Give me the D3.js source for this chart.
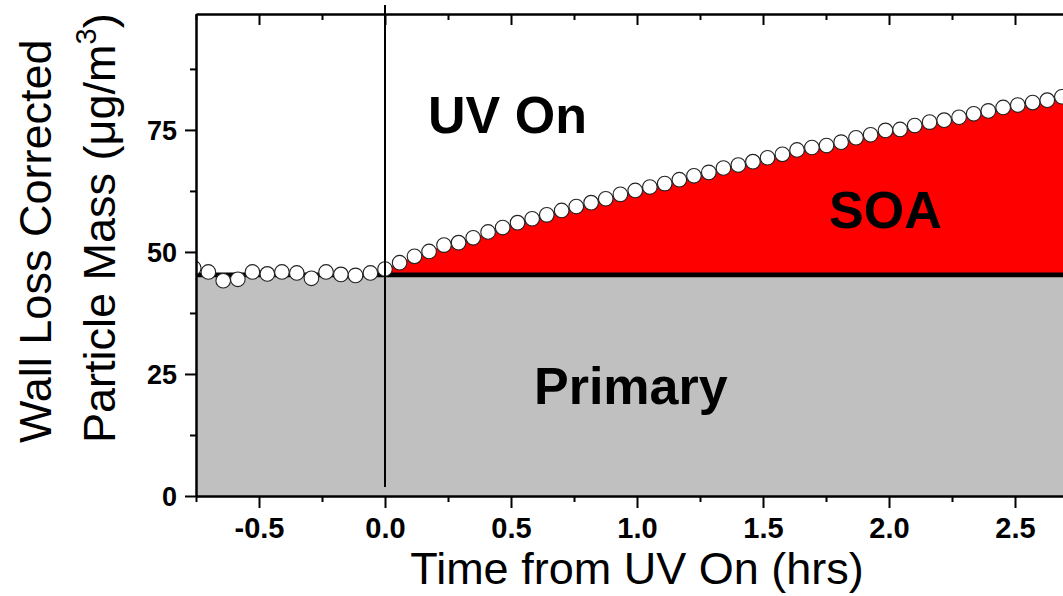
<!DOCTYPE html>
<html>
<head>
<meta charset="utf-8">
<script src="https://cdn.jsdelivr.net/npm/d3@7"></script>
<style>
  body { margin: 0; background: #fff; }
  svg { display: block; font-family: "Liberation Sans", Arial, sans-serif; }
  .tick text { font-family: "Liberation Sans", Arial, sans-serif; font-weight: bold; fill: #000; }
  .xlab .tick text { font-size: 29px; }
  .ylab .tick text { font-size: 27px; }
</style>
</head>
<body>
<svg id="chart" width="1063" height="596"></svg>
<script>
// Time relative to UV lamps switching on (hours)
const timeHrs = [
  -0.759, -0.701, -0.642, -0.584, -0.526, -0.467, -0.409, -0.350, -0.292, -0.234,
  -0.175, -0.117, -0.058, 0.000, 0.058, 0.117, 0.175, 0.234, 0.292, 0.350,
  0.409, 0.467, 0.526, 0.584, 0.642, 0.701, 0.759, 0.818, 0.876, 0.934,
  0.993, 1.051, 1.110, 1.168, 1.226, 1.285, 1.343, 1.402, 1.460, 1.518,
  1.577, 1.635, 1.694, 1.752, 1.810, 1.869, 1.927, 1.986, 2.044, 2.102,
  2.161, 2.219, 2.278, 2.336, 2.394, 2.453, 2.511, 2.570, 2.628, 2.686, 2.745
];
// Wall-loss-corrected particle mass (ug/m3)
const massUg = [
  46.7, 45.9, 44.1, 44.4, 45.9, 45.5, 45.9, 45.7, 44.6, 45.9,
  45.4, 45.2, 45.7, 46.5, 47.8, 49.1, 50.1, 51.4, 51.9, 52.9,
  54.1, 55.0, 56.0, 56.8, 57.6, 58.5, 59.3, 60.1, 60.9, 61.8,
  62.6, 63.3, 64.0, 64.8, 65.6, 66.3, 67.2, 67.8, 68.5, 69.3,
  70.0, 70.9, 71.4, 71.8, 72.5, 73.4, 74.0, 74.9, 75.1, 75.9,
  76.6, 77.0, 77.6, 78.3, 78.9, 79.6, 80.1, 80.6, 81.1, 81.8, 82.3
];
// Primary aerosol mass present before UV on
const primaryLevel = 45.3;
const uvOnTime = 0;

const xDomain = [-0.75, 2.75];
const yDomain = [0, 98.75];
const xMajorTicks = [-0.5, 0, 0.5, 1, 1.5, 2, 2.5];
const xTickLabels = ["-0.5", "0.0", "0.5", "1.0", "1.5", "2.0", "2.5"];
const xMinorTicks = [-0.75, -0.25, 0.25, 0.75, 1.25, 1.75, 2.25, 2.75];
const yMajorTicks = [0, 25, 50, 75];
const yTickLabels = ["0", "25", "50", "75"];
const yMinorTicks = [12.5, 37.5, 62.5, 87.5];

const svg = d3.select("#chart");
const plotLeft = 196, plotRight = 1078, plotTop = 14, plotBottom = 496;

const x = d3.scaleLinear().domain(xDomain).range([plotLeft, plotRight]);
const y = d3.scaleLinear().domain(yDomain).range([plotBottom, plotTop]);

const points = timeHrs.map((t, i) => ({ t, m: massUg[i] }));

svg.append("defs").append("clipPath").attr("id", "plotClip")
  .append("rect").attr("x", plotLeft).attr("y", 0)
  .attr("width", plotRight - plotLeft).attr("height", plotBottom);

const plot = svg.append("g").attr("clip-path", "url(#plotClip)");

// Primary aerosol (gray band)
plot.append("rect")
  .attr("x", x(xDomain[0])).attr("width", x(xDomain[1]) - x(xDomain[0]))
  .attr("y", y(primaryLevel)).attr("height", y(0) - y(primaryLevel))
  .attr("fill", "#c0c0c0");

// SOA formed after UV on (red area above primary level)
const soaArea = d3.area()
  .x(d => x(d.t))
  .y0(() => y(primaryLevel))
  .y1(d => y(d.m));
plot.append("path")
  .datum(points.filter(d => d.t >= uvOnTime))
  .attr("d", soaArea)
  .attr("fill", "#ff0000");

// Primary level line
plot.append("line")
  .attr("x1", x(xDomain[0])).attr("x2", x(xDomain[1]))
  .attr("y1", y(primaryLevel)).attr("y2", y(primaryLevel))
  .attr("stroke", "#000").attr("stroke-width", 4.6);

// Measured particle mass
plot.selectAll("circle.obs")
  .data(points)
  .join("circle")
  .attr("class", "obs")
  .attr("cx", d => x(d.t))
  .attr("cy", d => y(d.m))
  .attr("r", 7.3)
  .attr("fill", "#fff")
  .attr("stroke", "#222")
  .attr("stroke-width", 1.1);

// UV on marker
svg.append("line")
  .attr("x1", x(uvOnTime)).attr("x2", x(uvOnTime))
  .attr("y1", 5).attr("y2", 487)
  .attr("stroke", "#000").attr("stroke-width", 2);

// Axes
function styleAxis(g) {
  g.selectAll("path.domain").attr("stroke", "#000").attr("stroke-width", 2);
  g.selectAll(".tick line").attr("stroke", "#000").attr("stroke-width", 2);
}

// bottom
const gxMinor = svg.append("g").attr("transform", `translate(0,${plotBottom})`)
  .call(d3.axisBottom(x).tickValues(xMinorTicks).tickSize(6).tickSizeOuter(0).tickFormat(""));
styleAxis(gxMinor);
const gx = svg.append("g").attr("class", "xlab").attr("transform", `translate(0,${plotBottom})`)
  .call(d3.axisBottom(x).tickValues(xMajorTicks).tickSize(12).tickSizeOuter(0)
    .tickFormat((d, i) => xTickLabels[i]));
styleAxis(gx);
gx.selectAll(".tick text").attr("y", 42).attr("dy", 0);

// top
const gtMinor = svg.append("g").attr("transform", `translate(0,${plotTop})`)
  .call(d3.axisTop(x).tickValues(xMinorTicks).tickSize(-6).tickSizeOuter(0).tickFormat(""));
styleAxis(gtMinor);
const gt = svg.append("g").attr("transform", `translate(0,${plotTop})`)
  .call(d3.axisTop(x).tickValues(xMajorTicks).tickSize(-11).tickSizeOuter(0).tickFormat(""));
styleAxis(gt);

// left
const gyMinor = svg.append("g").attr("transform", `translate(${plotLeft},0)`)
  .call(d3.axisLeft(y).tickValues(yMinorTicks).tickSize(6).tickSizeOuter(0).tickFormat(""));
styleAxis(gyMinor);
const gy = svg.append("g").attr("class", "ylab").attr("transform", `translate(${plotLeft},0)`)
  .call(d3.axisLeft(y).tickValues(yMajorTicks).tickSize(11).tickSizeOuter(0)
    .tickFormat((d, i) => yTickLabels[i]));
styleAxis(gy);
gy.selectAll(".tick text").attr("x", -19).attr("dy", "0.35em");

// Axis titles
svg.append("text")
  .attr("x", (plotLeft + plotRight) / 2).attr("y", 584)
  .attr("text-anchor", "middle")
  .attr("font-size", 45)
  .text("Time from UV On (hrs)");

svg.append("text")
  .attr("transform", "translate(51,443) rotate(-90)")
  .attr("font-size", 45)
  .text("Wall Loss Corrected");

const yt2 = svg.append("text")
  .attr("transform", "translate(115,443) rotate(-90)")
  .attr("font-size", 45);
yt2.append("tspan").text("Particle Mass (\u03bcg/m");
yt2.append("tspan").attr("font-size", 29).attr("dy", -19).text("3");
yt2.append("tspan").attr("dy", 19).text(")");

// Annotations
const labels = [
  { text: "UV On", x: 428, y: 133 },
  { text: "SOA", x: 829, y: 228 },
  { text: "Primary", x: 534, y: 404 }
];
svg.selectAll("text.note")
  .data(labels)
  .join("text")
  .attr("class", "note")
  .attr("x", d => d.x).attr("y", d => d.y)
  .attr("font-size", 52).attr("font-weight", "bold")
  .text(d => d.text);
</script>
</body>
</html>
